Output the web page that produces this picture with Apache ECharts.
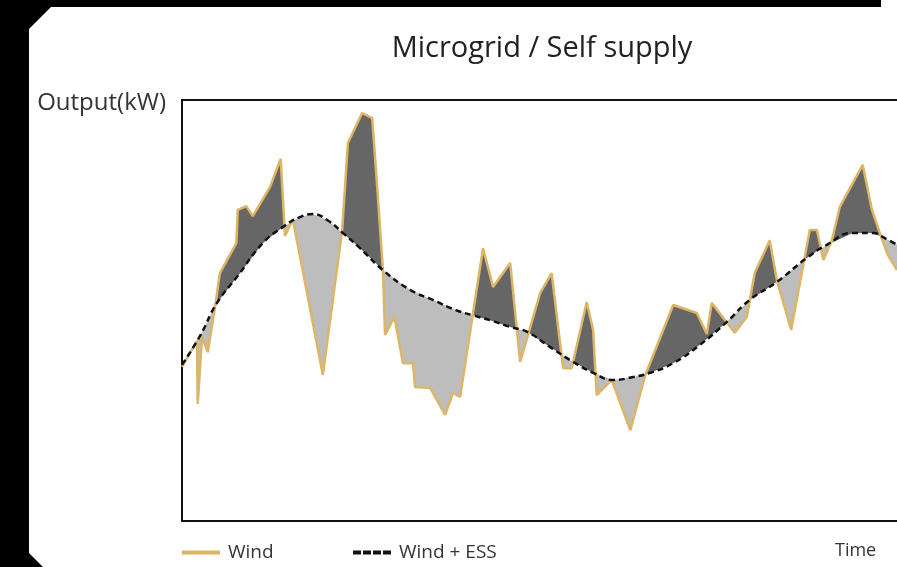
<!DOCTYPE html>
<html>
<head>
<meta charset="utf-8">
<script src="https://cdn.jsdelivr.net/npm/echarts@6/dist/echarts.min.js"></script>
<style>
  html, body { margin: 0; padding: 0; background: #000; }
  #main { width: 897px; height: 567px; }
</style>
</head>
<body>
<div id="main"></div>
<script>
// 风电出力（时间, kW）
const windTime = [0, 2.1, 2.2, 2.8, 3.6, 4.6, 5.3, 7.6, 7.8, 9.0, 9.9, 12.3, 13.8, 14.4, 15.5, 19.7, 22.4, 23.2, 25.2, 26.6, 27.4, 28.1, 28.4, 29.7, 30.9, 32.3, 32.6, 34.7, 36.8, 37.9, 38.9, 42.1, 43.5, 45.9, 47.3, 50.1, 51.7, 53.3, 54.5, 56.6, 57.5, 58.0, 60.1, 62.7, 64.8, 68.7, 72.0, 73.4, 74.1, 77.3, 79.0, 80.1, 82.2, 83.2, 85.2, 87.8, 88.8, 89.7, 90.9, 92.0, 95.2, 96.5, 97.6, 98.7, 100]
const windValue = [36.6, 42.8, 27.8, 43.7, 40.1, 50.6, 58.9, 66.0, 73.9, 74.8, 72.4, 79.3, 86.0, 67.7, 71.7, 34.7, 69.1, 89.8, 96.9, 95.7, 77.0, 59.6, 44.2, 48.5, 37.5, 37.5, 31.8, 31.6, 25.2, 30.4, 29.5, 64.8, 55.6, 61.3, 37.8, 54.2, 58.9, 36.3, 36.3, 52.0, 45.4, 29.9, 33.5, 21.6, 34.7, 51.3, 49.4, 44.4, 51.8, 44.7, 48.5, 58.9, 66.7, 57.2, 45.4, 69.1, 69.1, 62.0, 66.7, 74.6, 84.6, 73.9, 68.4, 63.2, 59.6]

// 风电 + 储能
const essTime = [0, 2.5, 4.9, 7.7, 11.3, 14.1, 16.5, 18.3, 20.3, 22.5, 24.9, 28.1, 31.9, 35.1, 38.3, 40.6, 43.1, 45.9, 48.3, 51.5, 54.7, 57.5, 60.3, 63.1, 65.5, 68.7, 72.4, 76.2, 79.4, 83.2, 87.4, 90.2, 93.8, 96.6, 98.3, 100]
const essValue = [37.1, 43.9, 51.8, 58.0, 66.0, 69.8, 72.2, 72.9, 71.5, 68.4, 64.8, 59.6, 54.9, 52.5, 50.1, 48.9, 47.7, 46.1, 44.9, 41.3, 37.8, 35.2, 33.5, 34.2, 35.2, 37.5, 41.8, 47.3, 52.5, 56.8, 62.5, 65.6, 68.4, 68.4, 67.2, 65.6]

const seriesNames = ['Wind', 'Wind + ESS']
const surplusColor = '#666666' // 风电高于储能曲线
const deficitColor = '#bdbdbd' // 风电低于储能曲线
const fontName = 'Open Sans'

function valueAt(ts, vs, t) {
  for (let i = 0; i < ts.length - 1; i++) {
    if (t >= ts[i] && t <= ts[i + 1]) {
      const k = (t - ts[i]) / (ts[i + 1] - ts[i])
      return vs[i] + k * (vs[i + 1] - vs[i])
    }
  }
  return vs[vs.length - 1]
}

// 两条线之间的填充区域，按交点切分
function buildRuns() {
  const grid = Array.from(new Set(windTime.concat(essTime))).sort((a, b) => a - b)
  const pts = []
  grid.forEach((t, i) => {
    const w = valueAt(windTime, windValue, t)
    const e = valueAt(essTime, essValue, t)
    if (i > 0) {
      const p = pts[pts.length - 1]
      const d0 = p[1] - p[2]
      const d1 = w - e
      if (d0 * d1 < 0) {
        const tc = p[0] + (t - p[0]) * d0 / (d0 - d1)
        const vc = valueAt(windTime, windValue, tc)
        pts.push([tc, vc, vc])
      }
    }
    pts.push([t, w, e])
  })
  const runs = []
  let cur = null
  for (let i = 0; i < pts.length - 1; i++) {
    const a = pts[i], b = pts[i + 1]
    const sign = (a[1] + b[1]) - (a[2] + b[2]) >= 0 ? 1 : -1
    if (!cur || cur.sign !== sign) {
      cur = { sign: sign, pts: [a] }
      runs.push(cur)
    }
    cur.pts.push(b)
  }
  return runs
}
const fillRuns = buildRuns()

const chart = echarts.init(document.getElementById('main'))

const hiddenAxis = {
  axisTick: { show: false },
  axisLabel: { show: false },
  splitLine: { show: false }
}
const frameLine = { show: true, onZero: false, lineStyle: { color: '#111', width: 2 } }

const option = {
  backgroundColor: '#000',
  animation: false,
  textStyle: { fontFamily: fontName },
  title: {
    text: 'Microgrid / Self supply',
    left: 537,
    top: 29,
    textAlign: 'center',
    textStyle: { fontSize: 29, fontWeight: 'normal', color: '#222', fontFamily: fontName }
  },
  graphic: {
    elements: [
      {
        type: 'polygon',
        z: -100,
        silent: true,
        shape: { points: [[29, 29], [51, 7], [881, 7], [881, 0], [897, 0], [897, 567], [43, 567], [29, 553]] },
        style: { fill: '#fff' }
      },
      {
        type: 'text',
        left: 835,
        top: 542,
        style: { text: 'Time', fontSize: 18, fill: '#333', fontFamily: fontName }
      }
    ]
  },
  legend: [
    {
      left: 182,
      top: 543,
      padding: 0,
      itemWidth: 38,
      itemHeight: 4,
      textStyle: { fontSize: 19, color: '#333', padding: [0, 0, 0, 3] },
      data: [{ name: seriesNames[0], icon: 'path://M0,0h38v4h-38z' }]
    },
    {
      left: 353,
      top: 543,
      padding: 0,
      itemWidth: 38,
      itemHeight: 4,
      textStyle: { fontSize: 19, color: '#333', padding: [0, 0, 0, 3] },
      data: [{ name: seriesNames[1], icon: 'path://M0,0h8v4h-8z M10,0h8v4h-8z M20,0h8v4h-8z M30,0h8v4h-8z' }]
    }
  ],
  grid: {
    left: 182,
    right: 0,
    top: 100,
    bottom: 46
  },
  xAxis: [
    Object.assign({ type: 'value', min: 0, max: 100, position: 'bottom', axisLine: frameLine }, hiddenAxis),
    Object.assign({ type: 'value', min: 0, max: 100, position: 'top', axisLine: frameLine }, hiddenAxis)
  ],
  yAxis: Object.assign({
    type: 'value',
    min: 0,
    max: 100,
    name: 'Output(kW)',
    nameLocation: 'end',
    nameGap: -3,
    nameTextStyle: { fontSize: 24, color: '#333', align: 'right', verticalAlign: 'middle', padding: [0, 16, 0, 0] },
    axisLine: frameLine
  }, hiddenAxis),
  series: [
    {
      type: 'custom',
      silent: true,
      z: 1,
      encode: { x: 0, y: 1 },
      data: fillRuns.map((r, i) => [r.pts[0][0], r.pts[0][1], i]),
      renderItem: function (params, api) {
        const run = fillRuns[params.dataIndex]
        const upper = run.pts.map(p => api.coord([p[0], p[1]]))
        const lower = run.pts.slice().reverse().map(p => api.coord([p[0], p[2]]))
        return {
          type: 'polygon',
          shape: { points: upper.concat(lower) },
          style: { fill: run.sign > 0 ? surplusColor : deficitColor }
        }
      }
    },
    {
      name: seriesNames[0],
      type: 'line',
      z: 3,
      symbol: 'none',
      lineStyle: { color: '#DDB566', width: 2.5 },
      itemStyle: { color: '#DDB566' },
      data: windTime.map((t, i) => [t, windValue[i]])
    },
    {
      name: seriesNames[1],
      type: 'line',
      z: 4,
      symbol: 'none',
      smooth: true,
      lineStyle: { color: '#111', width: 2.5, type: [6, 4] },
      itemStyle: { color: '#111' },
      data: essTime.map((t, i) => [t, essValue[i]])
    }
  ]
}

chart.setOption(option)
</script>
</body>
</html>
